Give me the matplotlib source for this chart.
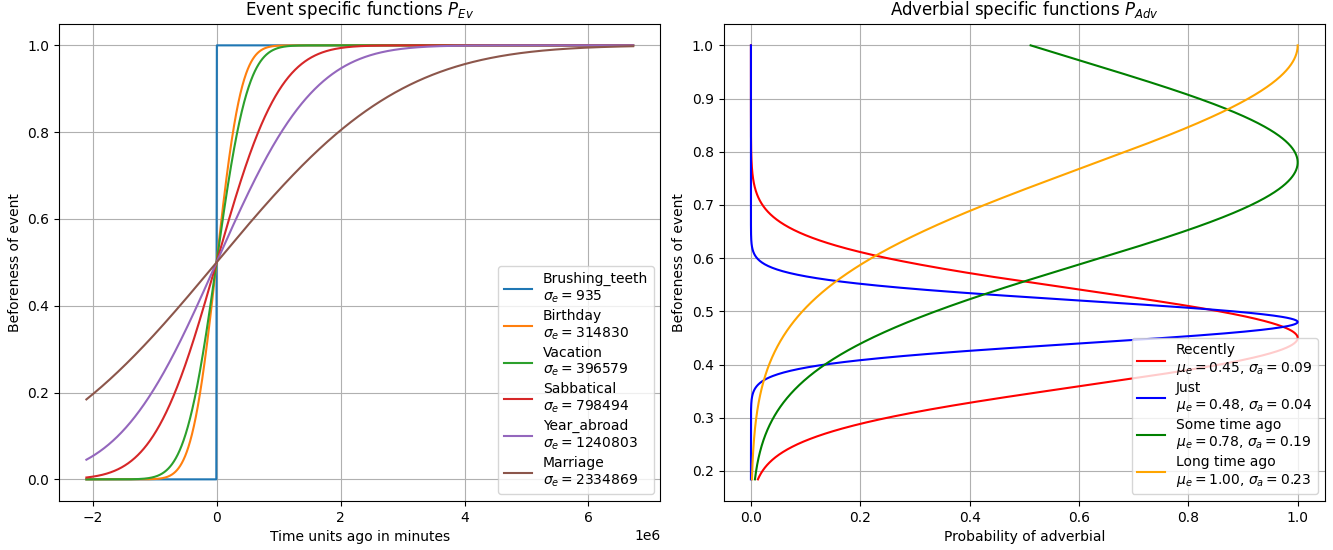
import math
import numpy as np
import matplotlib.pyplot as plt

# Event curves: name + sigma (from legend)
events = ["Brushing_teeth", "Birthday", "Vacation", "Sabbatical", "Year_abroad", "Marriage"]
event_sigmas = [935, 314830, 396579, 798494, 1240803, 2334869]
t_min, t_max = -2.1e6, 6.72e6

# Adverbial curves: name, mu, sigma (from legend)
adverbials = ["Recently", "Just", "Some time ago", "Long time ago"]
adv_mu = [0.45, 0.48, 0.78, 1.00]
adv_sigma = [0.09, 0.04, 0.19, 0.23]
adv_colors = ["red", "blue", "green", "orange"]

erf = np.vectorize(math.erf)


def norm_cdf(x, sigma):
    return 0.5 * (1 + erf(x / (sigma * math.sqrt(2))))


fig, (ax1, ax2) = plt.subplots(1, 2, figsize=(13.33, 5.5), dpi=100)
fig.subplots_adjust(left=0.0443, right=0.994, bottom=0.089, top=0.957, wspace=0.105)

# ---- left: event specific functions
t = np.linspace(t_min, t_max, 2000)
t = np.sort(np.append(t, [-1e-9, 1e-9]))
for name, s in zip(events, event_sigmas):
    ax1.plot(t, norm_cdf(t, s), label=f"{name}\n$\\sigma_e = {s}$")
ax1.set_title("Event specific functions $P_{Ev}$")
ax1.set_xlabel("Time units ago in minutes")
ax1.set_ylabel("Beforeness of event")
ax1.grid(True)
ax1.legend(loc="lower right", labelspacing=0.28)

# ---- right: adverbial specific functions
y_lo = norm_cdf(t_min, event_sigmas[-1])
b = np.linspace(y_lo, 1.0, 1000)
for name, mu, s, c in zip(adverbials, adv_mu, adv_sigma, adv_colors):
    p = np.exp(-(b - mu) ** 2 / (2 * s ** 2))
    ax2.plot(p, b, color=c, label=f"{name}\n$\\mu_e = {mu:.2f}$, $\\sigma_a = {s:.2f}$")
ax2.set_title("Adverbial specific functions $P_{Adv}$")
ax2.set_xlabel("Probability of adverbial")
ax2.set_ylabel("Beforeness of event")
ax2.grid(True)
ax2.legend(loc="lower right", labelspacing=0.28)

plt.savefig("out.png")
